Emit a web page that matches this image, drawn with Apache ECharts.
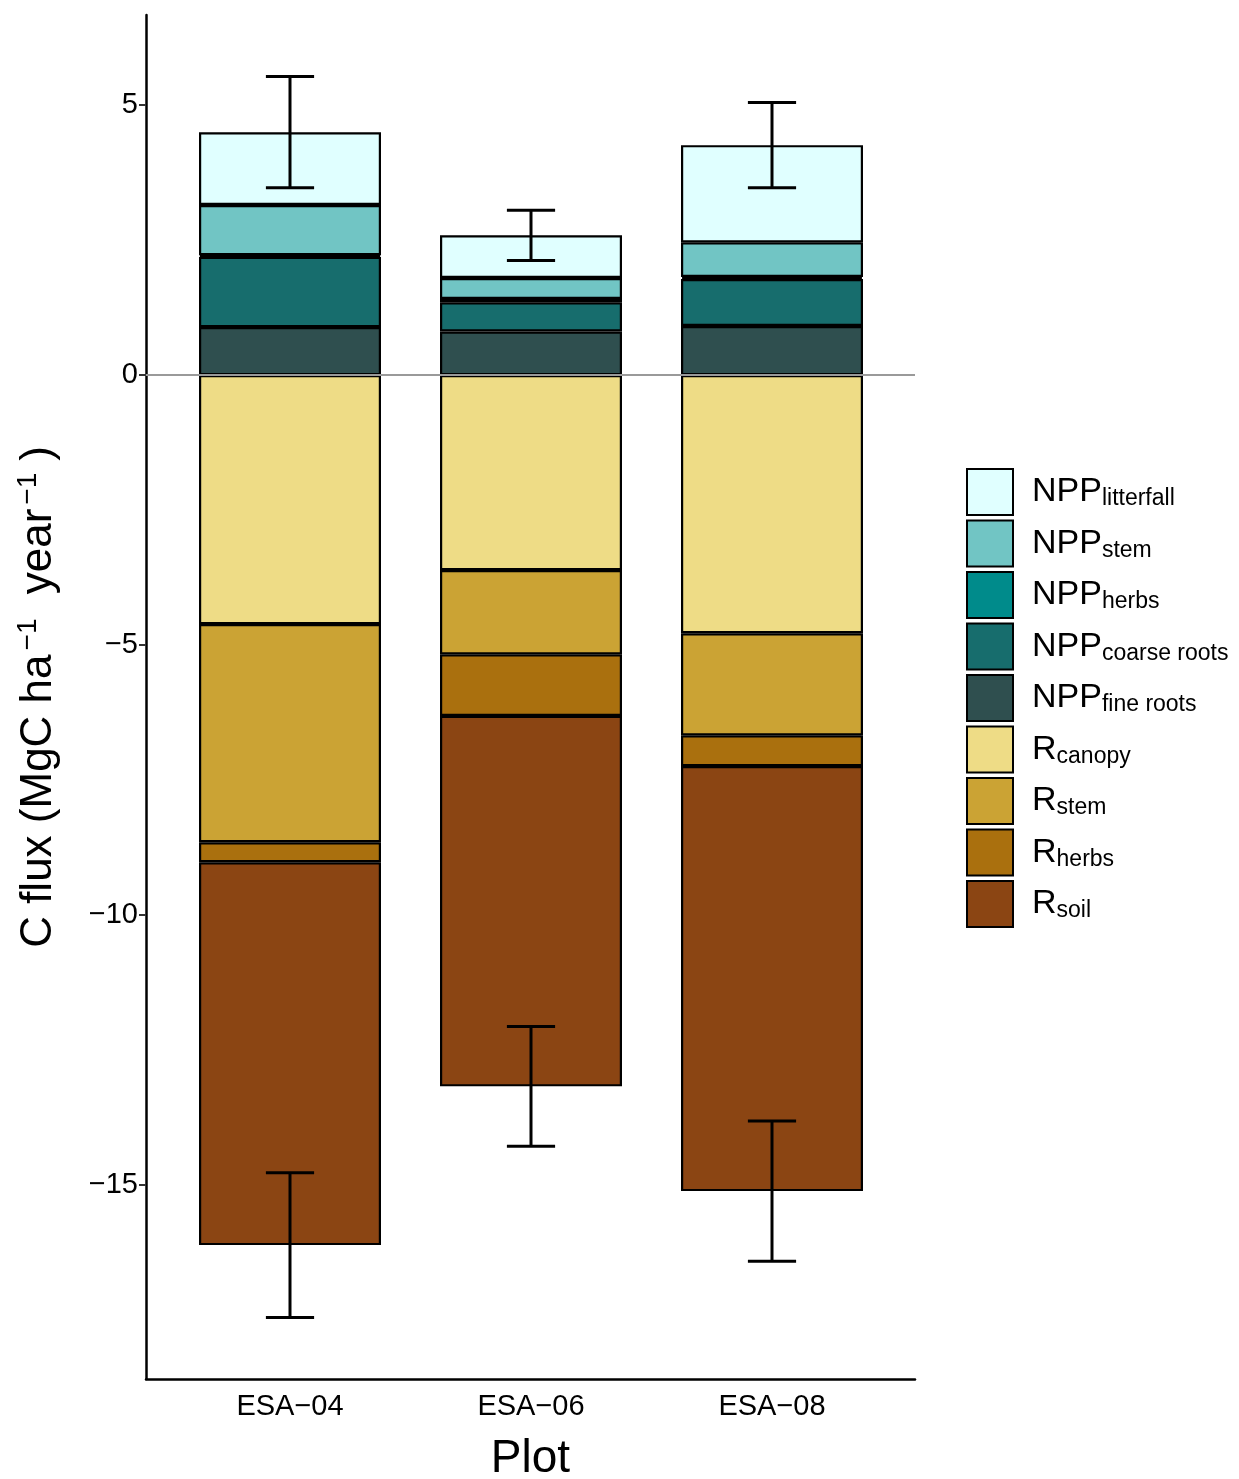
<!DOCTYPE html>
<html><head><meta charset="utf-8">
<script src="https://cdn.jsdelivr.net/npm/echarts@6/dist/echarts.min.js"></script>
<style>html,body{margin:0;padding:0;background:#fff}#c{width:1239px;height:1479px}</style>
</head><body><div id="c"></div>
<script>
const plots = ['ESA\u221204', 'ESA\u221206', 'ESA\u221208'];
// positive components (stack order from 0 upward)
const nppFineRoots   = [0.89, 0.81, 0.91];
const nppCoarseRoots = [1.30, 0.54, 0.87];
const nppHerbs       = [0.03, 0.06, 0.04];
const nppStem        = [0.93, 0.39, 0.64];
const nppLitterfall  = [1.35, 0.79, 1.80];
// negative components (stack order from 0 downward)
const rCanopy = [-4.61, -3.61, -4.78];
const rStem   = [-4.04, -1.56, -1.89];
const rHerbs  = [-0.37, -1.14, -0.57];
const rSoil   = [-7.09, -6.86, -7.87];
// error bar half-widths
const errNPP = [1.03, 0.465, 0.79];
const errR   = [1.34, 1.11, 1.30];
const yTicks = [-15, -10, -5, 0, 5];

const FONT = 'Liberation Sans';
const YMIN = -18.59, YMAX = 6.67;
const seriesDefs = [
  {name:'NPP fine roots', main:'NPP', sub:'fine roots', data:nppFineRoots, color:'#2F4F4F'},
  {name:'NPP coarse roots', main:'NPP', sub:'coarse roots', data:nppCoarseRoots, color:'#176D6D'},
  {name:'NPP herbs', main:'NPP', sub:'herbs', data:nppHerbs, color:'#008B8B'},
  {name:'NPP stem', main:'NPP', sub:'stem', data:nppStem, color:'#71C5C4'},
  {name:'NPP litterfall', main:'NPP', sub:'litterfall', data:nppLitterfall, color:'#E0FFFF'},
  {name:'R canopy', main:'R', sub:'canopy', data:rCanopy, color:'#EEDC86'},
  {name:'R stem', main:'R', sub:'stem', data:rStem, color:'#CBA334'},
  {name:'R herbs', main:'R', sub:'herbs', data:rHerbs, color:'#AA700E'},
  {name:'R soil', main:'R', sub:'soil', data:rSoil, color:'#8B4513'}
];
const legendOrder = ['NPP litterfall','NPP stem','NPP herbs','NPP coarse roots','NPP fine roots','R canopy','R stem','R herbs','R soil'];
const nameMap = {};
seriesDefs.forEach(s => nameMap[s.name] = s);

const sumPos = plots.map((_, i) => seriesDefs.reduce((a, s) => a + (s.data[i] > 0 ? s.data[i] : 0), 0));
const sumNeg = plots.map((_, i) => seriesDefs.reduce((a, s) => a + (s.data[i] < 0 ? s.data[i] : 0), 0));
const errData = [];
plots.forEach((p, i) => { errData.push([i, sumPos[i], errNPP[i]]); errData.push([i, sumNeg[i], errR[i]]); });

const series = seriesDefs.map(s => ({
  name: s.name, type: 'bar', stack: 'total', barWidth: 182,
  xAxisIndex: 0, yAxisIndex: 0,
  data: s.data,
  itemStyle: {color: s.color, borderColor: '#000', borderWidth: 2.2},
  emphasis: {disabled: true},
  z: 3
}));
// zero reference line across full panel
series.push({
  type: 'line', xAxisIndex: 1, yAxisIndex: 1, data: [[0, 0]], symbol: 'none', silent: true,
  lineStyle: {opacity: 0}, z: 1,
  markLine: {silent: true, symbol: 'none', label: {show: false}, animation: false,
    lineStyle: {color: '#9a9a9a', width: 2, type: 'solid'}, data: [{yAxis: 0}]}
});
series.push({
  type: 'custom', name: 'err', z: 5, silent: true, xAxisIndex: 0, yAxisIndex: 0,
  data: errData,
  renderItem: function (params, api) {
    const x = api.value(0), c = api.value(1), e = api.value(2);
    const top = api.coord([x, c + e]);
    const bot = api.coord([x, c - e]);
    const hw = api.size([1, 0])[0] * 0.1;
    const st = {stroke: '#000', lineWidth: 3};
    return {type: 'group', children: [
      {type: 'line', shape: {x1: top[0], y1: top[1], x2: bot[0], y2: bot[1]}, style: st},
      {type: 'line', shape: {x1: top[0]-hw, y1: top[1], x2: top[0]+hw, y2: top[1]}, style: st},
      {type: 'line', shape: {x1: bot[0]-hw, y1: bot[1], x2: bot[0]+hw, y2: bot[1]}, style: st}
    ]};
  }
});

const chart = echarts.init(document.getElementById('c'));
chart.setOption({
  animation: false,
  backgroundColor: '#fff',
  textStyle: {fontFamily: FONT},
  grid: [
    {left: 169.5, right: 346.5, top: 15, bottom: 100, outerBoundsMode: 'none', containLabel: false},
    {left: 146, right: 324, top: 15, bottom: 100, outerBoundsMode: 'none', containLabel: false}
  ],
  xAxis: [{
    type: 'category', gridIndex: 0, data: plots,
    axisLine: {show: false},
    axisTick: {show: true, alignWithLabel: true, length: 7, lineStyle: {color: '#333', width: 2}},
    axisLabel: {fontSize: 29, color: '#000', margin: 13, fontFamily: FONT}
  }, {
    type: 'value', gridIndex: 1, min: 0, max: 1,
    splitLine: {show: false},
    axisLine: {show: true, onZero: false, lineStyle: {color: '#000', width: 2.5}},
    axisTick: {show: false}, axisLabel: {show: false},
    name: 'Plot', nameLocation: 'middle', nameGap: 57,
    nameTextStyle: {fontSize: 46, color: '#000', fontFamily: FONT}
  }],
  yAxis: [{
    type: 'value', gridIndex: 0, min: YMIN, max: YMAX,
    show: false, splitLine: {show: false}
  }, {
    type: 'value', gridIndex: 1, min: YMIN, max: YMAX,
    splitLine: {show: false},
    axisLine: {show: true, onZero: false, lineStyle: {color: '#000', width: 2.5}},
    axisTick: {show: true, customValues: yTicks, length: 7, lineStyle: {color: '#333', width: 2}},
    axisLabel: {show: true, customValues: yTicks, formatter: v => String(v).replace('-', '\u2212'),
      fontSize: 29, color: '#000', margin: 8, fontFamily: FONT},
    name: '{t|C flux (MgC ha}{u|\u22121}{t| year}{u|\u22121}{t|)}', nameLocation: 'middle', nameGap: 82,
    nameTextStyle: {fontSize: 44, color: '#000', fontFamily: FONT,
      rich: {
        t: {fontSize: 44, color: '#000', fontFamily: FONT},
        u: {fontSize: 28, color: '#000', fontFamily: FONT, padding: [0, 12, 22, 4]}
      }}
  }],
  legend: {
    orient: 'vertical', left: 966, top: 468, padding: 0,
    itemWidth: 46, itemHeight: 46, itemGap: 3.5,
    data: legendOrder, selectedMode: false,
    icon: 'rect',
    formatter: n => `{m|${nameMap[n].main}}{s|${nameMap[n].sub}}`,
    textStyle: {
      padding: [0, 0, 0, 14],
      rich: {
        m: {fontSize: 34, color: '#000', fontFamily: FONT},
        s: {fontSize: 23, color: '#000', fontFamily: FONT, padding: [14, 0, 0, 0]}
      }
    }
  },
  series: series
});
</script></body></html>
